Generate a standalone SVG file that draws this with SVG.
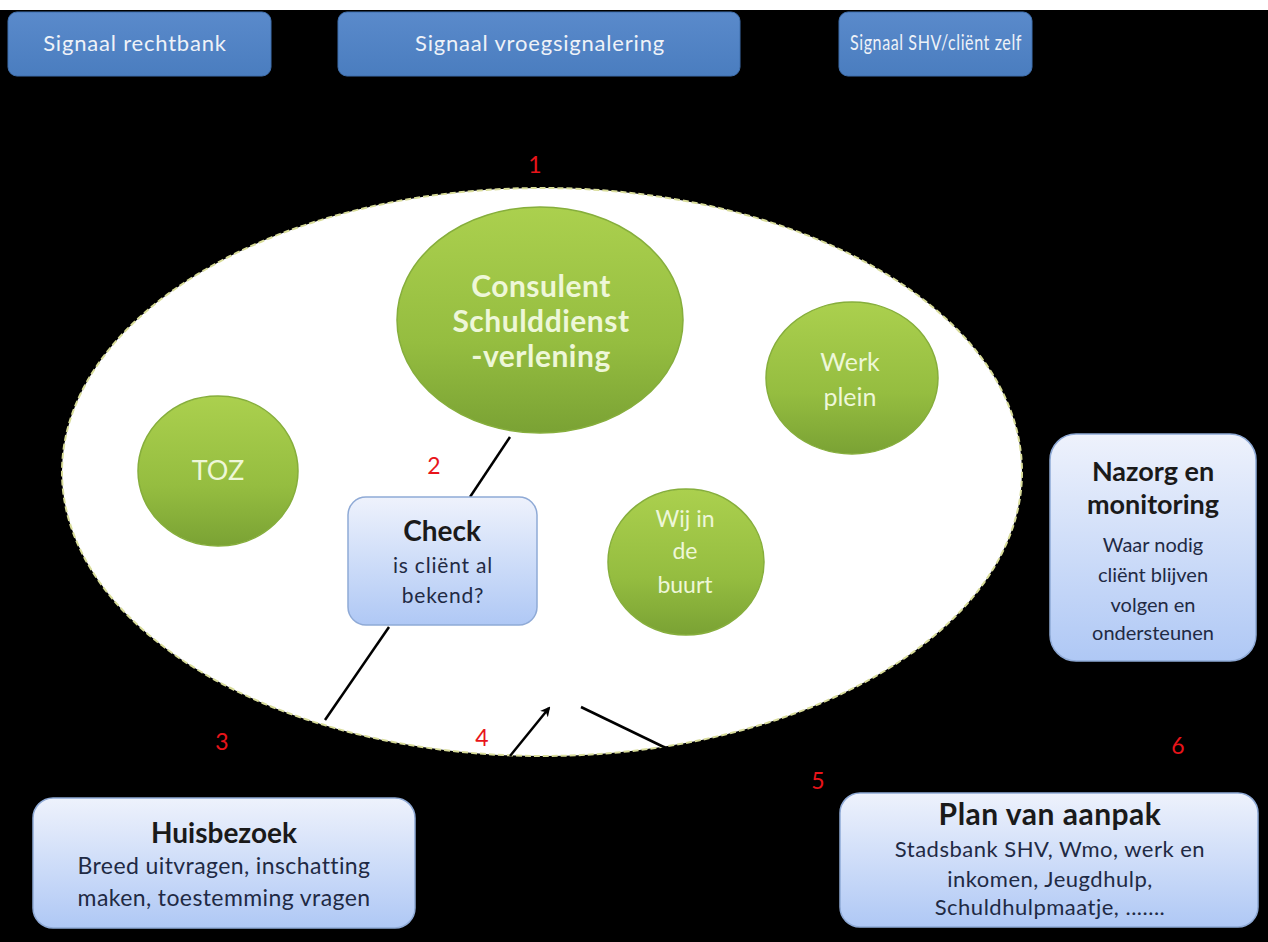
<svg xmlns="http://www.w3.org/2000/svg" width="1268" height="942" viewBox="0 0 1268 942">
<defs>
<linearGradient id="gGreen" x1="0" y1="0" x2="0" y2="1">
<stop offset="0" stop-color="#ABD04E"/>
<stop offset="0.6" stop-color="#95BD40"/>
<stop offset="1" stop-color="#7AA234"/>
</linearGradient>
<linearGradient id="gBlue" x1="0" y1="0" x2="0" y2="1">
<stop offset="0" stop-color="#EEF2FC"/>
<stop offset="1" stop-color="#AFC8F5"/>
</linearGradient>
<linearGradient id="gTop" x1="0" y1="0" x2="0" y2="1">
<stop offset="0" stop-color="#5A8ACB"/>
<stop offset="1" stop-color="#4A7DBF"/>
</linearGradient>
<marker id="arr" markerWidth="10" markerHeight="10" refX="8" refY="5" orient="auto" markerUnits="userSpaceOnUse">
<path d="M0,0 L10,5 L0,10 L3,5 Z" fill="#000"/>
</marker>
</defs>
<style>
.top{fill:url(#gTop);stroke:#3F6FAD;stroke-width:1}
.topT{font-family:Lato,"Open Sans",sans-serif;font-size:22px;letter-spacing:0.8px;fill:#EEF2F8;text-anchor:middle}
.green{fill:url(#gGreen);stroke:#86AE3C;stroke-width:1.5}
.gT{font-family:Lato,"Open Sans",sans-serif;fill:#EEF7D8;text-anchor:middle}
.lb{fill:url(#gBlue);stroke:#8FAAD6;stroke-width:1.5}
.bT{font-family:Lato,"Open Sans",sans-serif;fill:#1A1A1A;text-anchor:middle;font-weight:bold}
.sT{font-family:Lato,"Open Sans",sans-serif;fill:#1F2A44;text-anchor:middle}
.num{font-family:Lato,"Open Sans",sans-serif;font-size:23px;fill:#E8141A;text-anchor:middle}
.conn{stroke:#000;stroke-width:2.5;fill:none}
</style>
<rect x="0" y="0" width="1268" height="942" fill="#000"/>
<rect x="0" y="0" width="1268" height="10" fill="#FFFFFF"/>

<g id="ellipse-bg">
<ellipse cx="542" cy="472" rx="480" ry="284" fill="#FFFFFF" stroke="#D8DC9A" stroke-width="2" stroke-dasharray="6 3"/>
</g>

<g id="signaal-rechtbank">
<rect class="top" x="8" y="12" width="263" height="64" rx="9"/>
<text class="topT" x="135" y="51">Signaal rechtbank</text>
</g>
<g id="signaal-vroegsignalering">
<rect class="top" x="338" y="12" width="402" height="64" rx="9"/>
<text class="topT" x="540" y="51" letter-spacing="0">Signaal vroegsignalering</text>
</g>
<g id="signaal-shv">
<rect class="top" x="839" y="12" width="193" height="64" rx="9"/>
<text class="topT" x="936" y="50" font-size="19" letter-spacing="0" textLength="172" lengthAdjust="spacingAndGlyphs">Signaal SHV/cliënt zelf</text>
</g>

<g id="connectors">
<line class="conn" x1="510" y1="437" x2="470" y2="497"/>
<line class="conn" x1="389" y1="627" x2="325" y2="720"/>
<line class="conn" x1="510" y1="756" x2="549" y2="708" marker-end="url(#arr)"/>
<line class="conn" x1="581" y1="707" x2="670" y2="750"/>
</g>

<g id="consulent">
<ellipse class="green" cx="540" cy="320" rx="143" ry="113"/>
<text class="gT" font-size="30" font-weight="bold" letter-spacing="0.5" x="541" y="297">Consulent</text>
<text class="gT" font-size="30" font-weight="bold" letter-spacing="0.5" x="541" y="332">Schulddienst</text>
<text class="gT" font-size="30" font-weight="bold" letter-spacing="0.5" x="541" y="367">-verlening</text>
</g>
<g id="werkplein">
<ellipse class="green" cx="852" cy="378" rx="86" ry="76"/>
<text class="gT" font-size="25" x="850" y="371">Werk</text>
<text class="gT" font-size="25" x="850" y="406">plein</text>
</g>
<g id="toz">
<ellipse class="green" cx="218" cy="471" rx="80" ry="75"/>
<text class="gT" font-size="27" x="218" y="480">TOZ</text>
</g>
<g id="wij-in-de-buurt">
<ellipse class="green" cx="686" cy="562" rx="78" ry="73"/>
<text class="gT" font-size="23" x="685" y="527">Wij in</text>
<text class="gT" font-size="23" x="685" y="559">de</text>
<text class="gT" font-size="23" x="685" y="593">buurt</text>
</g>

<g id="check">
<rect class="lb" x="348" y="497" width="189" height="128" rx="18"/>
<text class="bT" font-size="28" x="442" y="541">Check</text>
<text class="sT" font-size="21" letter-spacing="0.8" x="443" y="573">is cliënt al</text>
<text class="sT" font-size="21" letter-spacing="0.8" x="443" y="603">bekend?</text>
</g>

<g id="nazorg">
<rect class="lb" x="1050" y="434" width="206" height="227" rx="26"/>
<text class="bT" font-size="27" x="1153" y="481">Nazorg en</text>
<text class="bT" font-size="27" x="1153" y="514">monitoring</text>
<text class="sT" font-size="20" x="1153" y="552">Waar nodig</text>
<text class="sT" font-size="20" x="1153" y="582">cliënt blijven</text>
<text class="sT" font-size="20" x="1153" y="612">volgen en</text>
<text class="sT" font-size="20" x="1153" y="640">ondersteunen</text>
</g>

<g id="huisbezoek">
<rect class="lb" x="33" y="798" width="382" height="130" rx="20"/>
<text class="bT" font-size="28" x="224" y="843">Huisbezoek</text>
<text class="sT" font-size="23" letter-spacing="0.4" x="224" y="874">Breed uitvragen, inschatting</text>
<text class="sT" font-size="23" letter-spacing="0.4" x="224" y="906">maken, toestemming vragen</text>
</g>

<g id="plan-van-aanpak">
<rect class="lb" x="840" y="793" width="418" height="134" rx="20"/>
<text class="bT" font-size="30" letter-spacing="0.5" x="1050" y="825">Plan van aanpak</text>
<text class="sT" font-size="22" letter-spacing="0.5" x="1050" y="857">Stadsbank SHV, Wmo, werk en</text>
<text class="sT" font-size="22" letter-spacing="0.5" x="1050" y="887">inkomen, Jeugdhulp,</text>
<text class="sT" font-size="22" letter-spacing="0.5" x="1050" y="915">Schuldhulpmaatje,  .......</text>
</g>

<g id="numbers">
<text class="num" x="535" y="173">1</text>
<text class="num" x="434" y="474">2</text>
<text class="num" x="222" y="750">3</text>
<text class="num" x="482" y="746">4</text>
<text class="num" x="818" y="789">5</text>
<text class="num" x="1178" y="754">6</text>
</g>
</svg>
